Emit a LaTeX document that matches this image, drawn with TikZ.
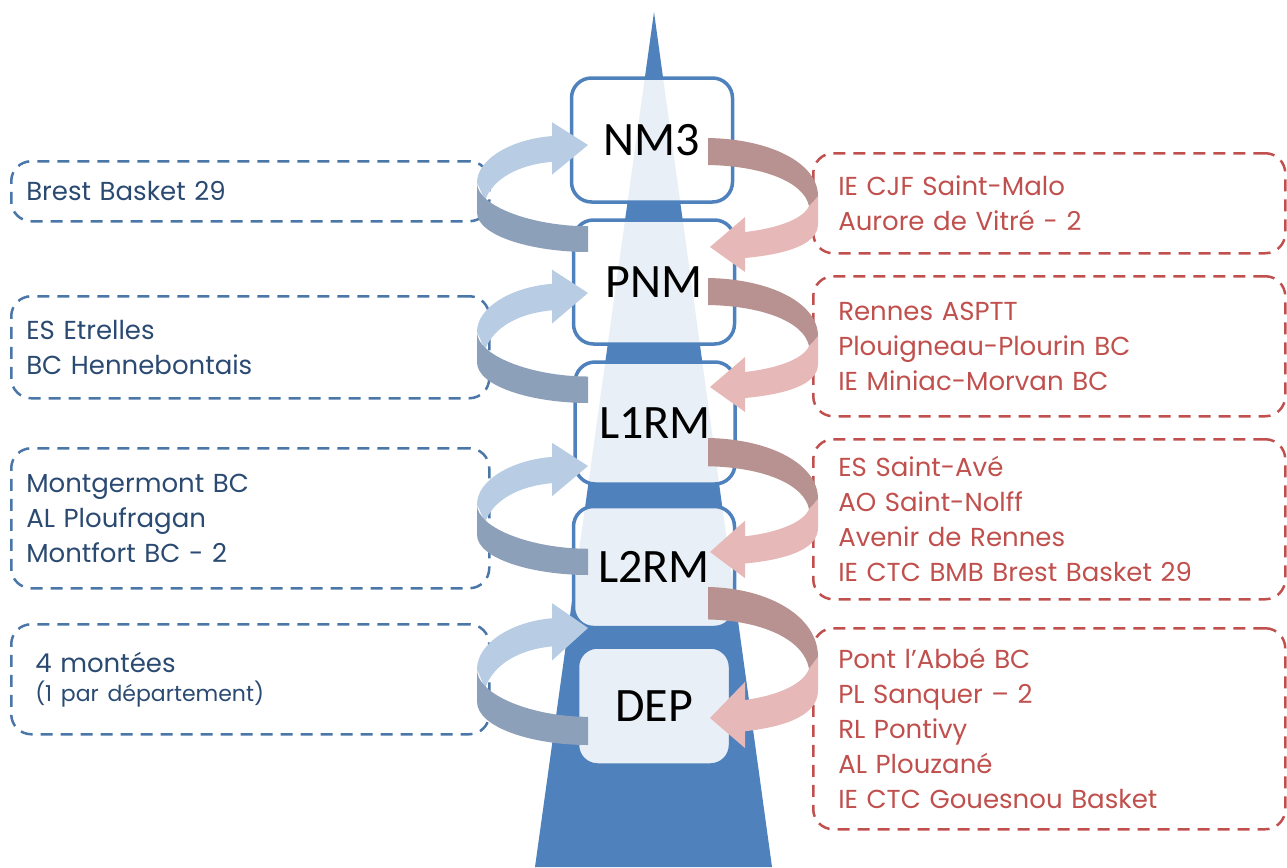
\documentclass[tikz,border=0pt]{standalone}
\usepackage{fontspec}
\usepackage{tikz}
\usetikzlibrary{positioning}
\newfontfamily\levelfont{Carlito}
\newfontfamily\clubfont{Poppins}
\definecolor{spireblue}{RGB}{79,129,189}
\definecolor{clubblue}{RGB}{43,74,114}
\definecolor{clubred}{RGB}{192,80,77}
\definecolor{dashblue}{RGB}{74,118,168}
\definecolor{uplight}{RGB}{184,204,228}
\definecolor{updark}{RGB}{141,160,186}
\definecolor{downdark}{RGB}{183,146,144}
\definecolor{downlight}{RGB}{230,184,183}
\tikzstyle{level_box} = [
    rectangle,
    rounded corners=20pt,
    draw=spireblue,
    line width=3.5pt,
    fill=white,
    fill opacity=0.88,
    text opacity=1,
    font=\levelfont\fontsize{48}{48}\selectfont,
    minimum width=161pt,
    minimum height=124pt
]
\tikzstyle{up_box} = [
    rectangle,
    rounded corners=20pt,
    draw=dashblue,
    line width=2.5pt,
    dash pattern=on 12pt off 8pt,
    text=clubblue,
    anchor=north west,
    align=left,
    inner xsep=15pt, % left margin of the names
    text width=448pt,
    font=\clubfont\fontsize{26}{35}\selectfont
]
\tikzstyle{down_box} = [
    rectangle,
    rounded corners=20pt,
    draw=clubred,
    line width=2.5pt,
    dash pattern=on 12pt off 8pt,
    text=clubred,
    anchor=north west,
    align=left,
    inner xsep=25pt,
    text width=422pt,
    font=\clubfont\fontsize{26}{35}\selectfont
]
% ribbon going up on the left: #1 = tip of the head, #2 = height
\newcommand{\montee}[2]{%
  \begin{scope}[shift={(588,#1)}, yscale=#2/108]
    \fill[uplight] (-111,38) .. controls (-111,14) and (-76,-6) .. (-36,-9)
      -- (-36,-23) -- (0,0) -- (-36,30) -- (-36,17)
      .. controls (-70,20) and (-95,34) .. (-103,56) -- cycle;
    \fill[updark] (-111,38) .. controls (-111,62) and (-55,82) .. (0,82)
      -- (0,108) .. controls (-55,108) and (-111,92) .. (-111,68) -- cycle;
  \end{scope}}
% ribbon going down on the right: #1 = top of the band, #2 = height
\newcommand{\descente}[2]{%
  \begin{scope}[shift={(708,#1)}, yscale=#2/109]
    \fill[downlight] (110,58) -- (110,86) .. controls (110,106) and (80,116) .. (37,120)
      -- (37,134) -- (2,109) -- (37,79) -- (37,94)
      .. controls (72,90) and (96,80) .. (101,68) -- cycle;
    \fill[downdark] (0,0) .. controls (62,1) and (110,25) .. (110,58)
      -- (101,68) .. controls (96,44) and (55,28) .. (0,27) -- cycle;
  \end{scope}}

\begin{document}
\begin{tikzpicture}[
    x=1pt,
    y=-1pt
]
\useasboundingbox (0,0) rectangle (1287,867);

% spire
\fill[spireblue] (654,12) -- (772,867) -- (535,867) -- cycle;

% levels
\node [level_box] (nm3) at (652,140) {NM3};
\node [level_box] (pnm) at (654,282) {PNM};
\node [level_box, minimum width=160pt, minimum height=122pt] (l1rm) at (655,423) {L1RM};
\node [level_box, minimum height=121pt] (l2rm) at (654,567) {L2RM};
\node [level_box, minimum width=153pt, minimum height=118pt] (dep) at (654,706) {DEP};

% teams going up
\node [up_box, minimum height=60pt] (up_nm3) at (10,160) {Brest Basket 29};
\node [up_box, minimum height=102pt] (up_pnm) at (10,295) {ES Etrelles\\BC Hennebontais};
\node [up_box, minimum height=140pt] (up_l1rm) at (10,447) {Montgermont BC\\AL Ploufragan\\Montfort BC - 2};
\node [up_box, minimum height=110pt, inner xsep=24pt, text width=430pt] (up_l2rm) at (10,623)
    {4 montées\\[-6pt]{\fontsize{22}{26}\selectfont (1 par département)}};

% teams going down
\node [down_box, minimum height=100pt] (down_nm3) at (812,152) {IE CJF Saint-Malo\\Aurore de Vitré - 2};
\node [down_box, minimum height=140pt] (down_pnm) at (812,275)
    {Rennes ASPTT\\Plouigneau-Plourin BC\\IE Miniac-Morvan BC};
\node [down_box, minimum height=160pt] (down_l1rm) at (812,438)
    {ES Saint-Avé\\AO Saint-Nolff\\Avenir de Rennes\\IE CTC BMB Brest Basket 29};
\node [down_box, minimum height=201pt] (down_l2rm) at (812,627)
    {Pont l’Abbé BC\\PL Sanquer – 2\\RL Pontivy\\AL Plouzané\\IE CTC Gouesnou Basket};

% ribbons
\montee{145}{107}
\montee{293}{110}
\montee{466}{109}
\montee{628}{117}
\descente{138}{109}
\descente{278}{109}
\descente{438}{114}
\descente{587}{131}
\end{tikzpicture}
\end{document}
